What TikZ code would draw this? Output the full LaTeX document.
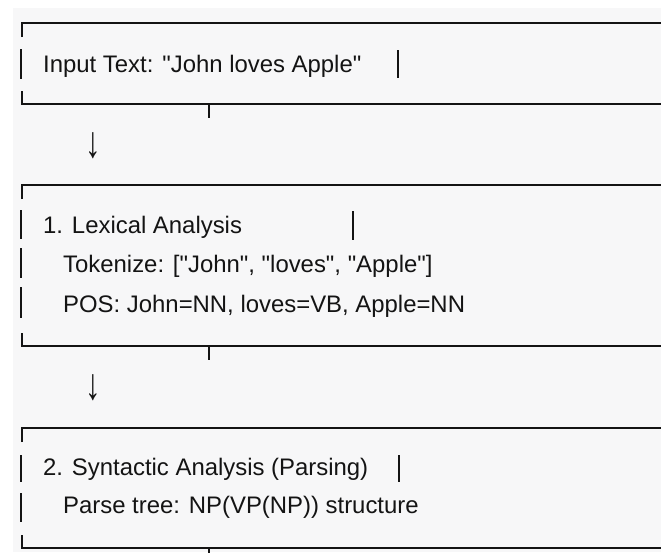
\documentclass[tikz,border=0pt]{standalone}
\usepackage{fontspec}
\newfontfamily\plainf{Liberation Sans}
\definecolor{bgc}{HTML}{F7F7F8}
\definecolor{ink}{HTML}{141414}
\tikzset{
  rule/.style={draw=ink, line width=1.5pt},
  txt/.style={anchor=base west, inner sep=0pt, text=ink, font=\plainf\fontsize{23.9}{28}\selectfont},
  arr/.style={anchor=base, inner sep=0pt, text=ink, font=\plainf\fontsize{23.9}{28}\selectfont},
}
\newcommand\downarr{\scalebox{1.3}[1.85]{↓}}
\begin{document}
\begin{tikzpicture}[x=1pt,y=-1pt]
\useasboundingbox (0,0) rectangle (661,552);
\fill[white] (0,0) rectangle (661,552);
\fill[bgc] (13,8) rectangle (661,552);
% Box 1
\draw[rule] (22,37) -- (22,23) -- (661,23);
\draw[rule] (22,91) -- (22,104) -- (661,104);
\draw[rule] (209,104) -- (209,118);
\draw[rule] (21,49) -- (21,79);
\draw[rule] (398,50) -- (398,78);
\node[txt] (t1) at (43,72) {Input Text: "John loves Apple"};
\node[arr] (a1) at (93,157) {\downarr};
% Box 2
\draw[rule] (22,199) -- (22,185) -- (661,185);
\draw[rule] (22,333) -- (22,346) -- (661,346);
\draw[rule] (209,346) -- (209,360);
\draw[rule] (21,210) -- (21,239);
\draw[rule] (21,248) -- (21,278);
\draw[rule] (21,287) -- (21,318);
\draw[rule] (353,211) -- (353,240);
\node[txt] (l1) at (43,233) {1. Lexical Analysis};
\node[txt] (l2) at (63,272) {Tokenize: ["John", "loves", "Apple"]};
\node[txt] (l3) at (63,312) {POS: John=NN, loves=VB, Apple=NN};
\node[arr] (a2) at (93,399) {\downarr};
% Box 3
\draw[rule] (22,442) -- (22,428) -- (661,428);
\draw[rule] (22,535) -- (22,548) -- (661,548);
\draw[rule] (209,548) -- (209,560);
\draw[rule] (21,455) -- (21,482);
\draw[rule] (21,493) -- (21,522);
\draw[rule] (399,455) -- (399,482);
\node[txt] (s1) at (43,475) {2. Syntactic Analysis (Parsing)};
\node[txt] (s2) at (63,513) {Parse tree: NP(VP(NP)) structure};
\end{tikzpicture}
\end{document}
